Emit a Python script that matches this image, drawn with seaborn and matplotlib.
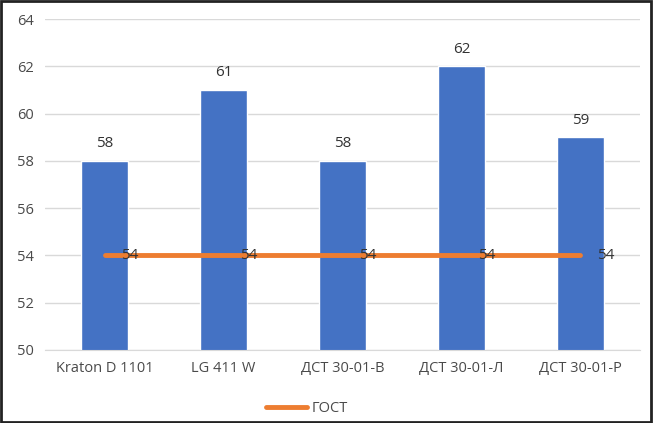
import seaborn as sns
import matplotlib.pyplot as plt
import pandas as pd

categories = ["Kraton D 1101", "LG 411 W", "ДСТ 30-01-В", "ДСТ 30-01-Л", "ДСТ 30-01-Р"]
values = [58, 61, 58, 62, 59]
gost = [54, 54, 54, 54, 54]
yticks = [50, 52, 54, 56, 58, 60, 62, 64]

sns.set_style("white")
plt.rcParams['font.family'] = ['Open Sans', 'DejaVu Sans']

df = pd.DataFrame({"cat": categories, "val": values, "gost": gost})

fig = plt.figure(figsize=(6.53, 4.23), dpi=100)
ax = fig.add_axes([0.069, 0.173, 0.911, 0.782])

sns.barplot(data=df, x="cat", y="val", color="#4472C4", width=0.4, saturation=1, ax=ax, zorder=2)
sns.lineplot(x=range(len(categories)), y=gost, color="#ED7D31", linewidth=3.5, ax=ax, zorder=3, label="ГОСТ")

ax.set_ylim(50, 64)
ax.set_yticks(yticks)
ax.set_xlim(-0.5, len(categories) - 0.5)
ax.yaxis.grid(True, color="#D9D9D9", linewidth=1, zorder=0)
for s in ax.spines.values():
    s.set_visible(False)
ax.spines['bottom'].set_visible(True)
ax.spines['bottom'].set_color("#D9D9D9")
ax.set_xlabel("")
ax.set_ylabel("")
ax.tick_params(axis='both', length=0, labelsize=10.5, colors="#4a4a4a", pad=8)
ax.set_xticks(range(len(categories)))
ax.set_xticklabels(categories)

for i, v in enumerate(values):
    ax.text(i, v + 0.4, str(v), ha="center", va="bottom", fontsize=11, color="#333333", zorder=4)
for i, g in enumerate(gost):
    ax.text(i + 0.14, g, str(g), ha="left", va="center", fontsize=11, color="#333333", zorder=4)

leg = ax.legend(loc="upper center", bbox_to_anchor=(0.44, -0.115), frameon=False, fontsize=10.5,
                handlelength=2.8, handletextpad=0.3)
for t in leg.get_texts():
    t.set_color("#4a4a4a")

fig.patches.append(plt.Rectangle((0.002, 0.003), 0.995, 0.994, transform=fig.transFigure,
                                 fill=False, edgecolor="#222222", linewidth=2))

fig.savefig("out.png", dpi=100)
